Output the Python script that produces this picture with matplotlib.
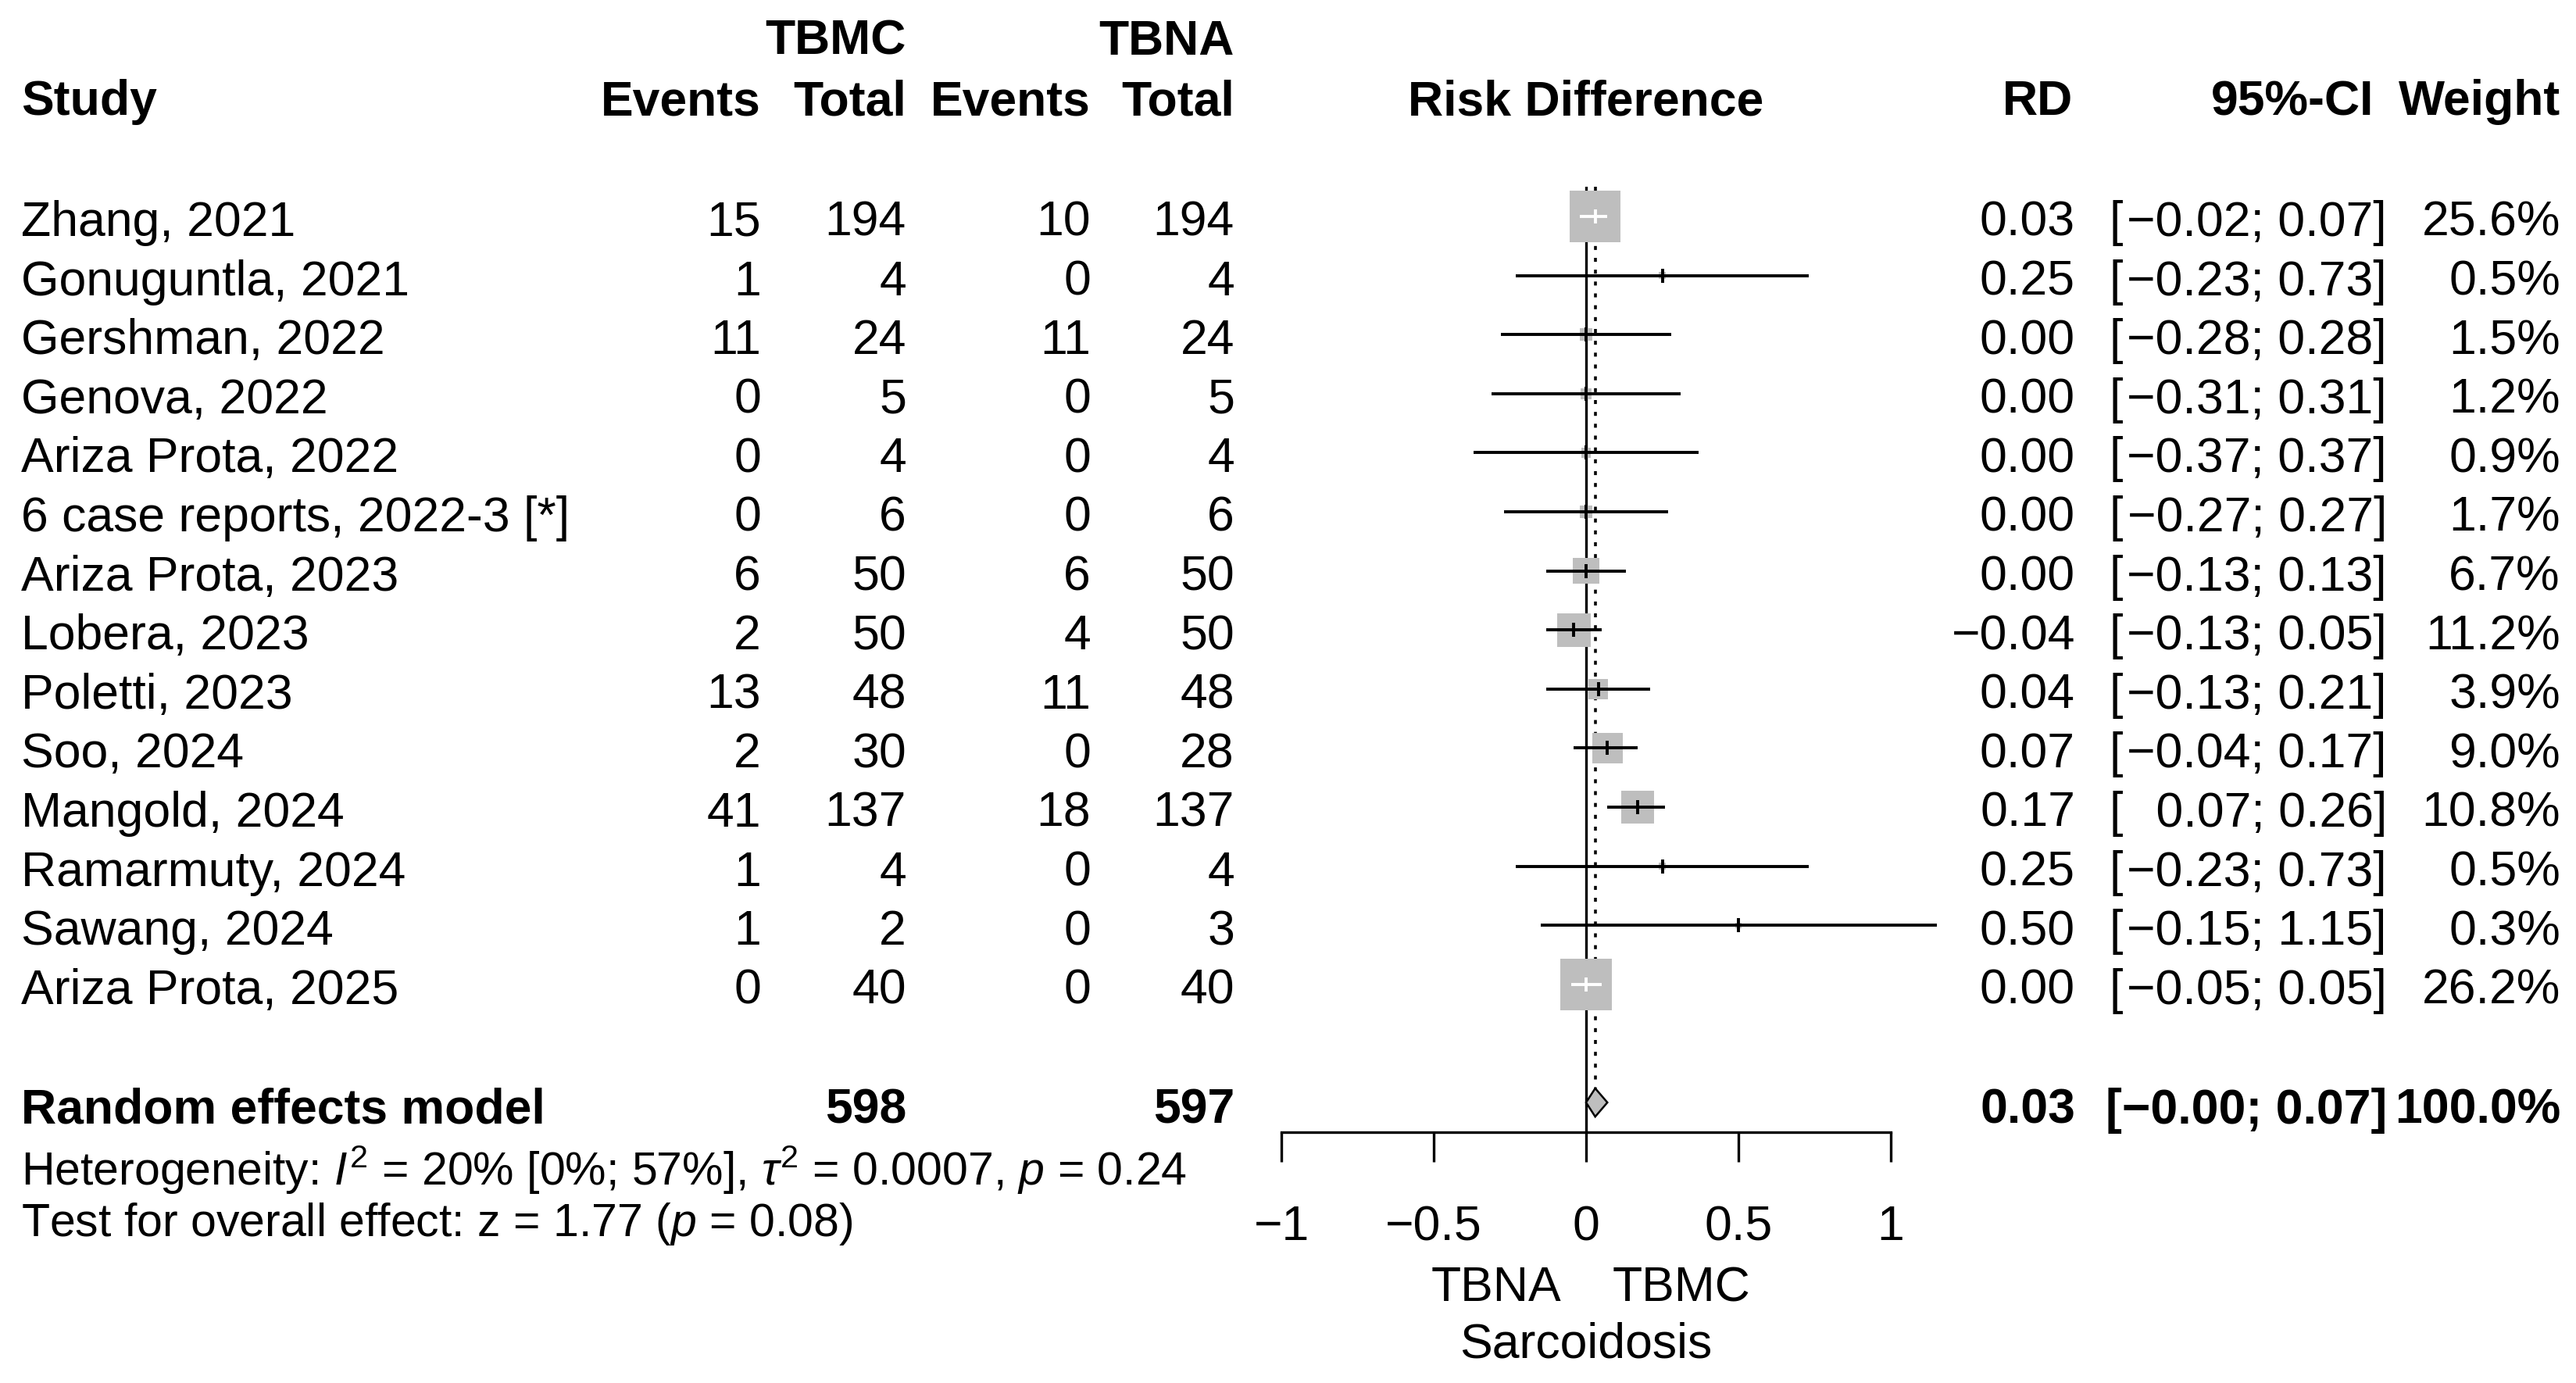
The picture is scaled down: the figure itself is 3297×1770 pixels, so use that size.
import matplotlib
matplotlib.use("Agg")
import matplotlib.pyplot as plt
import numpy as np

plt.rcParams['font.family'] = ['Liberation Sans', 'DejaVu Sans']
plt.rcParams['mathtext.fontset'] = 'custom'
plt.rcParams['mathtext.rm'] = 'Liberation Sans'
plt.rcParams['mathtext.it'] = 'Liberation Sans:italic'
plt.rcParams['mathtext.bf'] = 'Liberation Sans:bold'

# ---------------- data ----------------
studies = ["Zhang, 2021", "Gonuguntla, 2021", "Gershman, 2022", "Genova, 2022",
           "Ariza Prota, 2022", "6 case reports, 2022-3 [*]", "Ariza Prota, 2023",
           "Lobera, 2023", "Poletti, 2023", "Soo, 2024", "Mangold, 2024",
           "Ramarmuty, 2024", "Sawang, 2024", "Ariza Prota, 2025"]
tbmc_events = [15, 1, 11, 0, 0, 0, 6, 2, 13, 2, 41, 1, 1, 0]
tbmc_total = [194, 4, 24, 5, 4, 6, 50, 50, 48, 30, 137, 4, 2, 40]
tbna_events = [10, 0, 11, 0, 0, 0, 6, 4, 11, 0, 18, 0, 0, 0]
tbna_total = [194, 4, 24, 5, 4, 6, 50, 50, 48, 28, 137, 4, 3, 40]
rd = [0.03, 0.25, 0.00, 0.00, 0.00, 0.00, 0.00, -0.04, 0.04, 0.07, 0.17, 0.25, 0.50, 0.00]
ci_lo = [-0.02, -0.23, -0.28, -0.31, -0.37, -0.27, -0.13, -0.13, -0.13, -0.04, 0.07, -0.23, -0.15, -0.05]
ci_hi = [0.07, 0.73, 0.28, 0.31, 0.37, 0.27, 0.13, 0.05, 0.21, 0.17, 0.26, 0.73, 1.15, 0.05]
weights = [25.6, 0.5, 1.5, 1.2, 0.9, 1.7, 6.7, 11.2, 3.9, 9.0, 10.8, 0.5, 0.3, 26.2]

pooled_label = "Random effects model"
pooled_tbmc_total = 598
pooled_tbna_total = 597
pooled_rd = 0.03
pooled_lo = -0.00
pooled_hi = 0.07
pooled_weight = 100.0
het_text = r"Heterogeneity: $I^2$ = 20% [0%; 57%], $\tau^2$ = 0.0007, $p$ = 0.24"
test_text = r"Test for overall effect: z = 1.77 ($p$ = 0.08)"
xticks = [-1, -0.5, 0, 0.5, 1]
xtick_labels = ["\u22121", "\u22120.5", "0", "0.5", "1"]
label_left = "TBNA"
label_right = "TBMC"
xlab = "Sarcoidosis"

# ---------------- layout ----------------
W, H = 3298, 1770
fig = plt.figure(figsize=(W / 100, H / 100), dpi=100)

row0 = 277.0
step = 75.6
ax_left_px, ax_right_px = 1640, 2420
ax_top_px = row0 - 0.5 * step
ax_bot_px = row0 + 15.5 * step

ax = fig.add_axes([ax_left_px / W, 1 - ax_bot_px / H,
                   (ax_right_px - ax_left_px) / W, (ax_bot_px - ax_top_px) / H])
ax.set_xlim(-1, 1)
ax.set_ylim(15.5, -0.5)
for s in ['top', 'left', 'right']:
    ax.spines[s].set_visible(False)
ax.spines['bottom'].set_linewidth(2.4)
ax.set_yticks([])
ax.set_xticks(xticks)
ax.set_xticklabels(xtick_labels, fontsize=45)
ax.tick_params(axis='x', length=27.4, width=2.4, pad=39, direction='out')
ax.patch.set_alpha(0)

n = len(studies)
rows = np.arange(n)
gray = '#BEBEBE'
px_per_unit = (ax_right_px - ax_left_px) / 2.0

# reference lines
ax.axvline(0, color='black', lw=2.4, zorder=1)
ax.plot([pooled_rd, pooled_rd], [-0.5, 15 - 0.24], color='black', lw=2.6,
        linestyle=(0, (1.4, 2.8)), zorder=1)

# squares
side_px = 12.9 * np.sqrt(np.array(weights))
ax.scatter(rd, rows, marker='s', s=(side_px * 0.72) ** 2, color=gray,
           linewidths=0, zorder=2, clip_on=False)

# CI lines & estimate ticks
half_units = side_px / 2 / px_per_unit
cols = []
for i in range(n):
    inside = (rd[i] - ci_lo[i] < half_units[i]) and (ci_hi[i] - rd[i] < half_units[i])
    cols.append('white' if inside else 'black')
ax.hlines(rows, ci_lo, ci_hi, colors=cols, lw=2.8, zorder=3, clip_on=False)
ax.scatter(rd, rows, marker='|', s=13 ** 2, c=cols, linewidths=2.8, zorder=4, clip_on=False)

# diamond
ax.fill([pooled_lo, pooled_rd, pooled_hi, pooled_rd],
        [15, 15 - 0.24, 15, 15 + 0.24], facecolor=gray, edgecolor='black',
        lw=1.8, zorder=3, clip_on=False)

# ---------------- text overlay ----------------
ov = fig.add_axes([0, 0, 1, 1])
ov.set_xlim(0, W)
ov.set_ylim(H, 0)
ov.axis('off')

FS = 45


def T(x, y, s, ha='left', bold=False, size=FS):
    ov.text(x, y, s, ha=ha, va='baseline', fontsize=size,
            fontweight='bold' if bold else 'normal', color='black')


x_study = 27
x_ev1, x_tot1, x_ev2, x_tot2 = 974, 1160, 1396, 1580
x_rd, x_ci_l, x_ci_r, x_w = 2656, 2700, 3055, 3277
x_zero = 2030

# headers
T(x_tot1, 70, "TBMC", ha='right', bold=True)
T(x_tot2, 70, "TBNA", ha='right', bold=True)
hy = 147
T(x_study, hy, "Study", bold=True)
T(x_ev1, hy, "Events", ha='right', bold=True)
T(x_tot1, hy, "Total", ha='right', bold=True)
T(x_ev2, hy, "Events", ha='right', bold=True)
T(x_tot2, hy, "Total", ha='right', bold=True)
T(x_zero, hy, "Risk Difference", ha='center', bold=True)
T(2653, hy, "RD", ha='right', bold=True)
T(3038, hy, "95%-CI", ha='right', bold=True)
T(x_w, hy, "Weight", ha='right', bold=True)


def fmt(v):
    s = f"{abs(v):.2f}"
    return ("\u2212" + s) if v < 0 else s


def fmt_lo(v):
    s = f"{abs(v):.2f}"
    return ("\u2212" + s) if v < 0 else (" " + s)


for i in range(n):
    y = 302 + step * i
    T(x_study, y, studies[i])
    T(x_ev1, y, str(tbmc_events[i]), ha='right')
    T(x_tot1, y, str(tbmc_total[i]), ha='right')
    T(x_ev2, y, str(tbna_events[i]), ha='right')
    T(x_tot2, y, str(tbna_total[i]), ha='right')
    T(x_rd, y, fmt(rd[i]), ha='right')
    T(x_ci_l, y, "[")
    T(x_ci_r, y, f"{fmt_lo(ci_lo[i])}; {fmt(ci_hi[i])}]", ha='right')
    T(x_w, y, f"{weights[i]:.1f}%", ha='right')

py = 1438
T(x_study, py, pooled_label, bold=True)
T(x_tot1, py, str(pooled_tbmc_total), ha='right', bold=True)
T(x_tot2, py, str(pooled_tbna_total), ha='right', bold=True)
T(x_rd, py, fmt(pooled_rd), ha='right', bold=True)
T(x_ci_r, py, "[\u22120.00; " + fmt(pooled_hi) + "]", ha='right', bold=True)
T(x_w, py, f"{pooled_weight:.1f}%", ha='right', bold=True)

T(x_study, 1517, het_text, size=42.5)
T(x_study, 1582, test_text, size=42.5)

T(x_zero - 32, 1665, label_left, ha='right')
T(x_zero + 34, 1665, label_right, ha='left')
T(x_zero, 1737, xlab, ha='center')

fig.savefig("out.png", dpi=100, facecolor='white')
